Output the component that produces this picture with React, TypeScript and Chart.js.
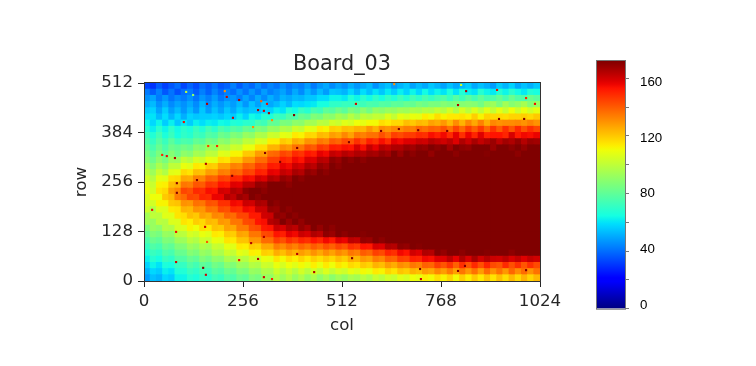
import React, { useEffect, useRef } from "react";
import { Chart, registerables } from "chart.js";

Chart.register(...registerables);

const titleText = "Board_03";
const xLabel = "col";
const yLabel = "row";
const axisTicks = { x: [0, 256, 512, 768, 1024], y: [0, 128, 256, 384, 512] };
const colMax = 1024;
const rowMax = 512;
const cellSize = 16;
const vMax = 172;
const barMinorTicks = [0, 20, 40, 60, 80, 100, 120, 140, 160];
const barLabels = [0, 40, 80, 120, 160];

// Rows run from the top of the picture (row 512) to the bottom (row 0), 64 cells each.
const heatRows: number[][] = [
[33,30,37,32,36,40,33, 38,34,40,37,41,36,38, 43,37,42,39,45,40,44,41, 46,42,45,43,48,42,47,50,45,49, 46,51,47,50,53,46,51,54,48,52,55,49,53,50,55,52, 49,54,50,53,56,50,54,51,48,56,52,57,50,54,51,55],
[42,37,43,36,41,35,40, 42,37,43,38,44,39,43, 40,46,41,47,42,48,43,46, 49,44,50,45,52,47,53,48,55,54, 52,58,52,59,54,60,55,61,56,62,57,63,58,64,59,63, 60,66,60,67,62,60,68,63,61,68,63,69,64,61,67,65],
[46,49,42,47,41,45,42, 46,41,47,43,48,42,46, 47,43,49,44,50,45,51,47, 52,50,53,52,55,55,59,59,63,63, 61,67,63,69,64,70,65,71,67,73,68,74,70,75,71,75, 77,72,78,73,79,74,80,75,76,81,75,82,77,76,82,79],
[50,53,46,51,45,49,46, 50,45,52,46,51,47,51, 48,53,47,54,49,55,50,53, 57,53,59,58,60,61,65,65,70,70, 72,71,74,73,76,75,78,77,80,79,82,81,85,83,86,85, 88,86,87,88,89,88,84,91,93,86,94,88,91,95,88,92],
[55,57,49,56,48,53,47, 53,47,55,48,54,49,55, 50,56,53,55,55,58,57,62, 60,67,64,71,68,75,73,80,78,83, 79,86,83,89,84,91,89,92,91,94,93,96,95,98,97,101, 98,104,97,105,99,106,100,107,101,108,102,110,103,109,104,108],
[59,60,53,59,52,58,51, 57,55,56,56,57,55,58, 56,62,57,64,62,68,66,73, 71,77,76,82,80,87,85,91,89,95, 92,98,93,100,98,101,100,106,101,108,106,109,108,113,111,116, 112,114,114,115,113,119,112,118,117,117,116,118,118,119,117,120],
[64,58,63,56,62,55,61, 56,62,59,62,61,64,63, 67,66,69,69,75,73,81,80, 86,85,90,89,95,94,99,98,104,102, 107,105,110,108,111,111,116,114,117,117,122,120,123,122,127,125, 129,123,131,124,132,126,133,125,132,130,131,131,132,130,133,130],
[68,62,69,63,70,64,69, 66,72,67,74,69,76,73, 78,76,82,80,87,85,92,91, 97,96,103,101,108,107,114,112,119,118, 122,121,124,123,129,124,131,129,132,131,134,133,138,136,139,138, 142,136,144,137,145,139,146,138,147,140,148,141,149,142,148,144],
[73,67,74,66,72,65,70, 68,74,72,78,76,83,81, 87,85,92,90,97,96,103,102, 108,107,114,112,118,117,123,122,128,126, 132,127,135,133,136,136,142,137,145,143,146,146,149,148,154,151, 155,149,157,148,156,150,158,151,153,153,150,159,152,155,154,156],
[77,71,78,72,79,73,76, 75,81,79,85,83,90,88, 94,93,100,99,106,105,113,113, 120,118,125,123,130,129,135,133,140,138, 143,141,148,143,151,148,154,149,157,155,158,158,161,160,164,162, 160,163,158,165,161,166,162,165,168,163,167,165,169,164,168,167],
[81,75,82,76,83,81,84, 82,89,87,93,91,98,97, 103,102,109,109,116,116,124,124, 131,129,136,135,142,140,147,145,152,151, 154,153,159,154,162,157,164,162,165,165,168,167,170,169,172,170, 172,167,172,170,169,172,172,172,168,172,172,170,172,169,172,172],
[85,79,86,80,88,83,90, 88,95,93,100,99,107,106, 112,112,120,120,128,128,137,138, 144,142,149,147,153,151,157,155,162,160, 164,162,165,164,167,166,169,167,172,168,172,170,172,172,169,172, 172,172,170,172,172,172,172,171,172,172,172,172,170,172,172,172],
[88,83,90,85,93,92,101, 98,105,103,109,108,116,115, 121,121,129,129,137,137,145,145, 151,149,155,153,159,158,164,163,170,168, 172,170,172,170,172,172,172,172,172,172,172,172,172,172,172,172, 172,172,172,172,172,172,172,172,172,172,172,172,172,172,172,172],
[94,88,96,91,100,100,109, 107,114,113,120,119,127,127, 133,132,139,138,145,144,152,151, 157,155,161,159,165,163,169,167,172,170, 172,172,172,172,172,172,172,172,172,172,172,172,172,172,172,172, 172,172,172,172,172,172,172,172,172,172,172,172,172,172,172,172],
[99,93,102,97,107,108,117, 115,122,121,128,127,134,133, 139,138,145,144,151,150,157,156, 162,160,166,164,170,168,172,170,172,172, 172,172,172,172,172,172,172,172,172,172,172,172,172,172,172,172, 172,172,172,172,172,172,172,172,172,172,172,172,172,172,172,172],
[104,98,108,107,116,117,126, 125,133,132,139,138,145,144, 150,149,155,154,160,158,165,163, 169,167,172,170,172,172,172,172,172,172, 172,172,172,172,172,172,172,172,172,172,172,172,172,172,172,172, 172,172,172,172,172,172,172,172,172,172,172,172,172,172,172,172],
[107,102,112,113,122,124,135, 134,141,140,147,146,153,152, 158,157,163,163,169,168,172,172, 172,170,172,172,172,172,172,172,172,172, 172,172,172,172,172,172,172,172,172,172,172,172,172,172,172,172, 172,172,172,172,172,172,172,172,172,172,172,172,172,172,172,172],
[109,104,115,117,128,132,144, 142,149,148,154,153,160,159, 165,163,170,172,172,170,172,172, 172,172,172,172,172,172,172,172,172,172, 172,172,172,172,172,172,172,172,172,172,172,172,172,172,172,172, 172,172,172,172,172,172,172,172,172,172,172,172,172,172,172,172],
[105,110,110,120,123,134,137, 144,143,150,149,156,156,164, 162,168,166,172,170,172,172,172, 172,172,172,172,172,172,172,172,172,172, 172,172,172,172,172,172,172,172,172,172,172,172,172,172,172,172, 172,172,172,172,172,172,172,172,172,172,172,172,172,172,172,172],
[106,104,112,112,120,121,130, 129,136,135,142,141,148,148, 155,154,161,160,166,165,172,170, 172,172,172,172,172,172,172,172,172,172, 172,172,172,172,172,172,172,172,172,172,172,172,172,172,172,172, 172,172,172,172,172,172,172,172,172,172,172,172,172,172,172,172],
[103,97,106,106,114,115,124, 123,130,129,136,135,143,142, 149,148,155,154,161,161,169,168, 172,170,172,172,172,172,172,172,172,172, 172,172,172,172,172,172,172,172,172,172,172,172,172,172,172,172, 172,172,172,172,172,172,172,172,172,172,172,172,172,172,172,172],
[94,100,99,107,107,115,116, 122,120,127,125,132,131,138, 137,144,144,152,152,160,161,170, 169,172,170,172,172,172,172,172,172,172, 172,172,172,172,172,172,172,172,172,172,172,172,172,172,172,172, 172,172,172,172,172,172,172,172,172,172,172,172,172,172,172,172],
[94,92,99,98,106,106,115, 113,119,117,123,122,129,128, 135,135,143,144,153,154,164,166, 172,168,172,169,172,172,172,172,172,172, 172,172,172,172,172,172,172,172,172,172,172,172,172,172,172,172, 172,172,172,172,172,172,172,172,172,172,172,172,172,172,172,172],
[86,92,90,98,97,105,106, 112,110,116,114,121,120,127, 126,134,134,142,143,152,153,161, 159,165,163,169,166,172,169,172,170,172, 172,172,172,172,172,172,172,172,172,172,172,172,172,172,172,172, 172,172,172,172,172,172,172,172,172,172,172,172,172,172,172,172],
[81,87,85,92,91,99,99, 105,103,109,107,114,113,120, 119,127,126,135,135,143,144,153, 151,157,155,161,159,165,163,170,168,172, 170,172,172,171,172,172,172,172,172,172,172,172,172,172,172,172, 172,172,172,172,172,172,172,172,172,172,172,172,172,172,172,172],
[76,82,80,87,86,93,93, 99,97,103,102,109,108,115, 114,121,121,129,129,137,137,145, 142,148,145,150,148,153,150,155,152,158, 156,163,162,169,168,172,170,172,172,172,172,172,172,172,172,172, 172,172,172,172,172,172,172,172,172,172,172,172,172,172,172,172],
[71,77,75,82,80,87,87, 93,91,97,95,102,101,108, 107,114,113,120,119,126,126,134, 131,136,133,138,135,140,137,142,139,144, 141,148,146,153,152,159,158,165,164,170,169,172,171,172,172,172, 172,172,172,172,172,172,172,172,172,172,172,172,172,172,172,172],
[66,72,70,77,75,82,82, 88,86,92,90,97,96,103, 101,108,106,113,112,119,118,125, 122,127,124,128,125,130,126,131,127,132, 129,135,133,140,138,145,143,150,148,155,153,160,158,165,164,171, 169,172,172,170,172,172,172,171,172,172,172,170,172,172,172,172],
[62,68,65,72,70,77,77, 82,80,87,84,90,89,96, 94,100,98,104,103,109,108,115, 111,116,113,118,114,119,116,120,117,122, 119,125,123,129,127,134,132,139,138,145,144,151,150,155,154,158, 158,163,157,165,159,166,160,164,161,160,163,159,162,158,162,160],
[57,63,60,66,65,71,71, 77,74,80,78,84,82,89, 87,93,92,98,97,103,102,109, 105,110,107,111,108,113,109,114,110,115, 112,117,115,120,118,124,122,128,125,131,129,135,133,139,138,145, 141,147,139,148,141,149,142,150,143,141,149,142,148,141,148,143],
[52,58,56,62,60,67,67, 72,70,75,73,79,77,83, 81,87,86,92,91,97,96,103, 98,103,98,104,99,105,100,106,101,105, 103,108,106,111,109,114,112,118,115,121,119,124,122,128,126,132, 128,134,127,135,129,136,128,137,130,136,129,138,131,137,130,136],
[48,54,52,58,56,63,63, 68,66,71,69,74,72,78, 76,82,80,87,85,92,91,98, 93,98,92,97,91,96,90,95,89,94, 91,96,94,99,96,102,99,104,102,107,105,110,108,113,111,116, 112,118,111,119,113,120,114,121,115,122,116,123,117,124,118,123],
];

// Isolated outlier pixels.
const speckCols = [109,127,209,214,163,246,303,318,295,310,323,388,230,103,331,282,166,189,47,59,80,160,85,137,228,313,396,352,85,21,83,158,163,83,153,160,246,295,310,331,440,277,310,396,647,820,833,913,988,1011,812,548,918,983,613,659,709,784,530,538,716,714,830,812,988];
const speckRows = [489,481,491,476,458,468,465,458,442,440,434,429,422,411,416,398,349,349,326,323,318,303,253,261,272,331,344,308,228,184,127,140,101,49,34,16,54,57,10,5,23,98,114,70,509,507,491,494,473,458,455,458,419,419,388,393,390,388,359,59,5,31,39,26,28];
const speckVals = [100,90,130,160,165,165,140,155,165,160,165,172,160,155,130,130,145,150,150,155,165,165,172,172,172,172,172,172,172,155,155,160,140,160,172,160,155,165,160,150,165,165,165,165,130,105,165,155,150,155,165,160,172,172,172,172,172,172,172,172,160,172,172,172,172];

function jet(t: number): string {
  const c = Math.max(0, Math.min(1, t));
  const piece = (pts: number[][]) => {
    for (let i = 1; i < pts.length; i++) {
      if (c <= pts[i][0]) {
        const [x0, y0] = pts[i - 1];
        const [x1, y1] = pts[i];
        return y0 + ((c - x0) / (x1 - x0)) * (y1 - y0);
      }
    }
    return pts[pts.length - 1][1];
  };
  const r = piece([[0, 0], [0.35, 0], [0.66, 1], [0.89, 1], [1, 0.5]]);
  const g = piece([[0, 0], [0.125, 0], [0.375, 1], [0.64, 1], [0.91, 0], [1, 0]]);
  const b = piece([[0, 0.5], [0.11, 1], [0.34, 1], [0.65, 0], [1, 0]]);
  return `rgb(${Math.round(r * 255)},${Math.round(g * 255)},${Math.round(b * 255)})`;
}

const framePlugin = (color: string) => ({
  id: "frame",
  afterDatasetsDraw(chart: any) {
    const a = chart.chartArea;
    const ctx = chart.ctx;
    ctx.save();
    ctx.strokeStyle = color;
    ctx.lineWidth = 1;
    ctx.strokeRect(a.left + 0.5, a.top - 0.5, a.right - a.left, a.bottom - a.top + 1);
    ctx.restore();
  },
});

const W = 756;
const H = 366;
const mainFont = "'DejaVu Sans'";
const barFont = "'Liberation Sans'";
const inkColor = "#262626";

export default function App() {
  const mainRef = useRef<HTMLCanvasElement>(null);
  const barRef = useRef<HTMLCanvasElement>(null);

  useEffect(() => {
    const heat: { x: number; y: number }[] = [];
    const heatColors: string[] = [];
    heatRows.forEach((row, j) =>
      row.forEach((v, i) => {
        heat.push({ x: (i + 0.5) * cellSize, y: rowMax - (j + 0.5) * cellSize });
        heatColors.push(jet(v / vMax));
      })
    );
    const main = new Chart(mainRef.current!, {
      type: "scatter",
      data: {
        datasets: [
          {
            data: speckCols.map((c, i) => ({ x: c, y: speckRows[i] })),
            pointStyle: "rect",
            pointRadius: 1.5,
            pointBorderWidth: 0,
            pointBackgroundColor: speckVals.map((v) => jet(v / vMax)),
            clip: 0,
          } as any,
          {
            data: heat,
            pointStyle: "rect",
            pointRadius: 5,
            pointBorderWidth: 0,
            pointBackgroundColor: heatColors,
            clip: 0,
          } as any,
        ],
      },
      options: {
        animation: false,
        responsive: false,
        events: [],
        layout: { padding: { left: 72, right: W - 540, top: 52, bottom: 30 } },
        plugins: {
          legend: { display: false },
          tooltip: { enabled: false },
          title: { display: false },
        },
        scales: {
          x: {
            type: "linear",
            min: 0,
            max: colMax,
            afterBuildTicks: (s: any) => {
              s.ticks = axisTicks.x.map((value) => ({ value }));
            },
            afterFit: (s: any) => {
              s.height = 55;
            },
            grid: { drawOnChartArea: false, tickLength: 6, tickColor: inkColor, color: inkColor },
            border: { display: false },
            ticks: {
              color: inkColor,
              padding: 5,
              maxRotation: 0,
              autoSkip: false,
              font: { family: mainFont, size: 16.67 },
              callback: (v: any) => String(v),
            },
            title: {
              display: true,
              text: xLabel,
              color: inkColor,
              padding: 0,
              font: { family: mainFont, size: 16.67 },
            },
          },
          titleAxis: {
            type: "linear",
            position: "top",
            min: 0,
            max: colMax,
            afterFit: (s: any) => {
              s.height = 31;
            },
            grid: { display: false, drawTicks: false },
            border: { display: false },
            ticks: { display: false },
            title: {
              display: true,
              text: titleText,
              color: inkColor,
              padding: 0,
              font: { family: mainFont, size: 20.8 },
            },
          },
          y: {
            type: "linear",
            min: 0,
            max: rowMax,
            afterBuildTicks: (s: any) => {
              s.ticks = axisTicks.y.map((value) => ({ value }));
            },
            afterFit: (s: any) => {
              s.width = 72;
            },
            grid: { drawOnChartArea: false, tickLength: 6, tickColor: inkColor, color: inkColor },
            border: { display: false },
            ticks: {
              color: inkColor,
              padding: 5,
              autoSkip: false,
              font: { family: mainFont, size: 16.67 },
              callback: (v: any) => String(v),
            },
            title: {
              display: true,
              text: yLabel,
              color: inkColor,
              padding: 0,
              font: { family: mainFont, size: 16.67 },
            },
          },
        },
      } as any,
      plugins: [framePlugin("#333")],
    });

    const bar = new Chart(barRef.current!, {
      type: "bar",
      data: {
        labels: [""],
        datasets: [
          {
            data: [[0, vMax]],
            yAxisID: "cb",
            categoryPercentage: 1,
            barPercentage: 1,
            borderWidth: 0,
            backgroundColor: (ctx: any) => {
              const a = ctx.chart.chartArea;
              if (!a) return "#000";
              const g = ctx.chart.ctx.createLinearGradient(0, a.bottom, 0, a.top);
              for (let i = 0; i <= 64; i++) g.addColorStop(i / 64, jet(i / 64));
              return g;
            },
          } as any,
        ],
      },
      options: {
        animation: false,
        responsive: false,
        events: [],
        layout: { padding: { left: 596, right: W - 625 - 45, top: 61, bottom: H - 308.7 } },
        plugins: { legend: { display: false }, tooltip: { enabled: false } },
        scales: {
          x: { display: false, grid: { display: false } },
          cb: {
            type: "linear",
            position: "right",
            weight: 0,
            min: 0,
            max: vMax,
            afterBuildTicks: (s: any) => {
              s.ticks = barMinorTicks.map((value) => ({ value }));
            },
            afterFit: (s: any) => {
              s.width = 5;
            },
            grid: { drawOnChartArea: false, tickLength: 4, tickColor: "#777", color: "#777" },
            border: { display: false },
            ticks: { display: false },
          },
          cbLabels: {
            type: "linear",
            position: "right",
            weight: 1,
            min: -2.16,
            max: 175,
            afterBuildTicks: (s: any) => {
              s.ticks = barLabels.map((value) => ({ value }));
            },
            afterFit: (s: any) => {
              s.width = 40;
            },
            grid: { display: false, drawTicks: false },
            border: { display: false },
            ticks: {
              color: "#000",
              padding: 10,
              autoSkip: false,
              font: { family: barFont, size: 13.3 },
              callback: (v: any) => String(v),
            },
          },
        },
      } as any,
      plugins: [framePlugin("#777")],
    });

    return () => {
      main.destroy();
      bar.destroy();
    };
  }, []);

  const style: React.CSSProperties = { position: "fixed", left: 0, top: 0 };
  return (
    <div style={{ position: "fixed", left: 0, top: 0, width: W, height: H, background: "#fff" }}>
      <canvas ref={mainRef} width={W} height={H} style={style} />
      <canvas ref={barRef} width={W} height={H} style={style} />
    </div>
  );
}
